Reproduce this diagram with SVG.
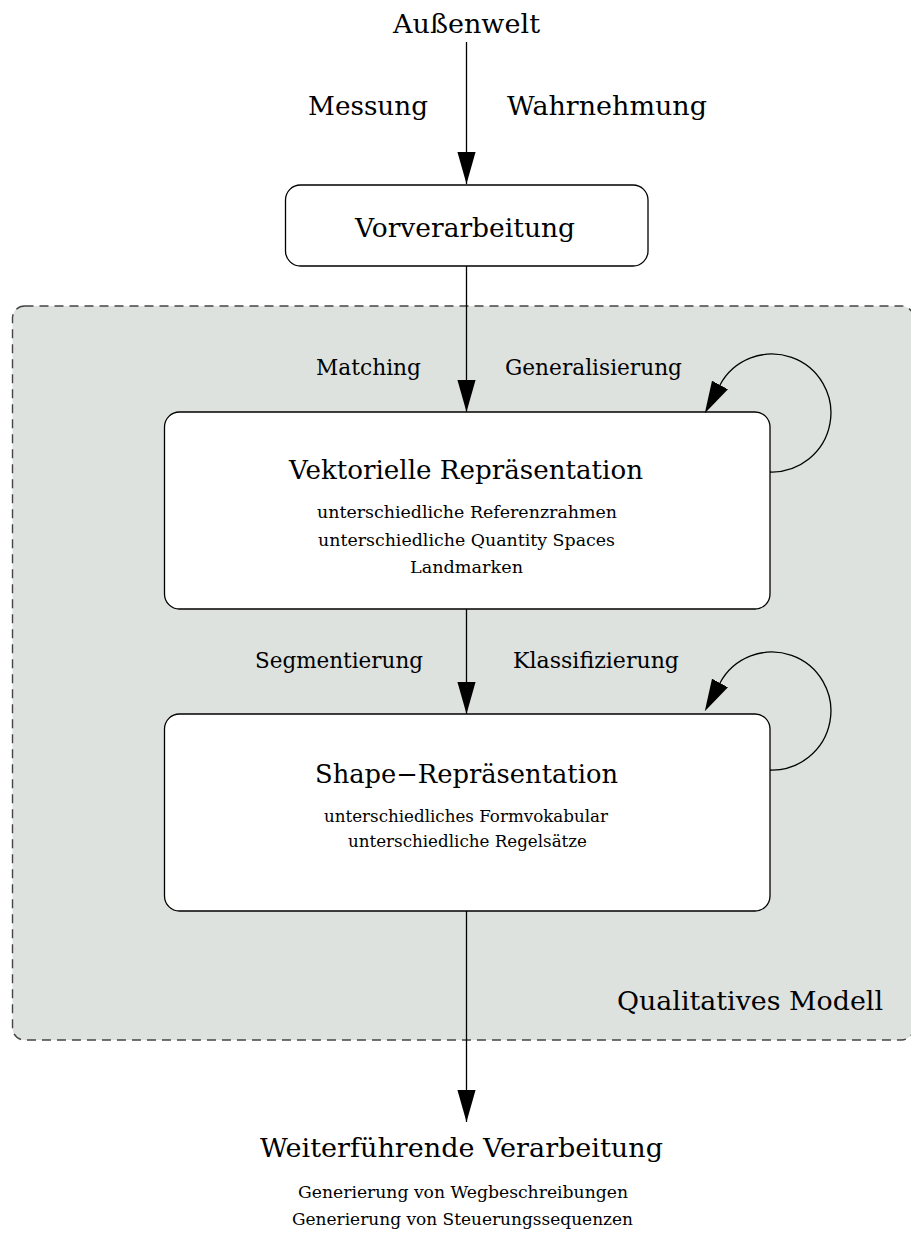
<svg xmlns="http://www.w3.org/2000/svg" width="911" height="1233" viewBox="0 0 911 1233">
<style>
text{font-family:"DejaVu Serif","Liberation Serif",serif;fill:#000;text-anchor:middle}
.big{font-size:26px}
.lbl{font-size:22px}
.sub{font-size:17px}
.box{fill:#fff;stroke:#000;stroke-width:1.3}
.edge{fill:none;stroke:#000;stroke-width:1.3}
.grp{fill:#dee2df;stroke:#444;stroke-width:1.4;stroke-dasharray:9 6}
</style>
<defs>
<marker id="arr" markerUnits="userSpaceOnUse" markerWidth="32" markerHeight="19" viewBox="0 0 30 17" refX="30" refY="8.5" orient="auto">
<path d="M0,0 L30,8.5 L0,17 z" fill="#000"/>
</marker>
<marker id="arrb" markerUnits="userSpaceOnUse" markerWidth="32" markerHeight="19" viewBox="0 0 30 17" refX="0" refY="8.5" orient="auto">
<path d="M0,0 L30,8.5 L0,17 z" fill="#000"/>
</marker>
</defs>

<g id="qualitatives-modell">
<rect class="grp" x="12.5" y="306" width="901" height="734" rx="12"/>
<text class="big" x="750" y="1010" textLength="266" lengthAdjust="spacingAndGlyphs">Qualitatives Modell</text>
</g>

<g id="aussenwelt">
<text class="big" x="466.5" y="33" textLength="147" lengthAdjust="spacingAndGlyphs">Außenwelt</text>
</g>

<g id="vorverarbeitung">
<rect class="box" x="285.5" y="185" width="362.5" height="81" rx="15"/>
<text class="big" x="465" y="237" textLength="220" lengthAdjust="spacingAndGlyphs">Vorverarbeitung</text>
</g>

<g id="vektorielle-repraesentation">
<rect class="box" x="164.5" y="412" width="605.5" height="197" rx="15"/>
<text class="big" x="466" y="479" textLength="354" lengthAdjust="spacingAndGlyphs">Vektorielle Repräsentation</text>
<text class="sub" x="467" y="518" textLength="300" lengthAdjust="spacingAndGlyphs">unterschiedliche Referenzrahmen</text>
<text class="sub" x="466.5" y="546" textLength="297" lengthAdjust="spacingAndGlyphs">unterschiedliche Quantity Spaces</text>
<text class="sub" x="466.5" y="573" textLength="113" lengthAdjust="spacingAndGlyphs">Landmarken</text>
</g>

<g id="shape-repraesentation">
<rect class="box" x="164.5" y="714" width="605.5" height="197" rx="15"/>
<text class="big" x="466.5" y="783" textLength="303" lengthAdjust="spacingAndGlyphs">Shape−Repräsentation</text>
<text class="sub" x="466" y="822" textLength="284" lengthAdjust="spacingAndGlyphs">unterschiedliches Formvokabular</text>
<text class="sub" x="467.5" y="847" textLength="239" lengthAdjust="spacingAndGlyphs">unterschiedliche Regelsätze</text>
</g>

<g id="weiterfuehrende-verarbeitung">
<text class="big" x="461.5" y="1157" textLength="403" lengthAdjust="spacingAndGlyphs">Weiterführende Verarbeitung</text>
<text class="sub" x="463" y="1198" textLength="330" lengthAdjust="spacingAndGlyphs">Generierung von Wegbeschreibungen</text>
<text class="sub" x="462.5" y="1225" textLength="341" lengthAdjust="spacingAndGlyphs">Generierung von Steuerungssequenzen</text>
</g>

<g id="connectors">
<line class="edge" x1="466.5" y1="42" x2="466.5" y2="184" marker-end="url(#arr)"/>
<line class="edge" x1="466.5" y1="266" x2="466.5" y2="412" marker-end="url(#arr)"/>
<line class="edge" x1="466.5" y1="609" x2="466.5" y2="714" marker-end="url(#arr)"/>
<line class="edge" x1="466.5" y1="911" x2="466.5" y2="1122" marker-end="url(#arr)"/>
<path class="edge" d="M770,472 A59,59 0 1 0 720,385" marker-end="url(#arrb)"/>
<path class="edge" d="M770,770 A59,59 0 1 0 720,683" marker-end="url(#arrb)"/>
<text class="big" x="368" y="115" textLength="120" lengthAdjust="spacingAndGlyphs">Messung</text>
<text class="big" x="607" y="115" textLength="200" lengthAdjust="spacingAndGlyphs">Wahrnehmung</text>
<text class="lbl" x="368.5" y="375" textLength="105" lengthAdjust="spacingAndGlyphs">Matching</text>
<text class="lbl" x="593.5" y="375" textLength="177" lengthAdjust="spacingAndGlyphs">Generalisierung</text>
<text class="lbl" x="339" y="668" textLength="168" lengthAdjust="spacingAndGlyphs">Segmentierung</text>
<text class="lbl" x="596" y="668" textLength="166" lengthAdjust="spacingAndGlyphs">Klassifizierung</text>
</g>
</svg>
